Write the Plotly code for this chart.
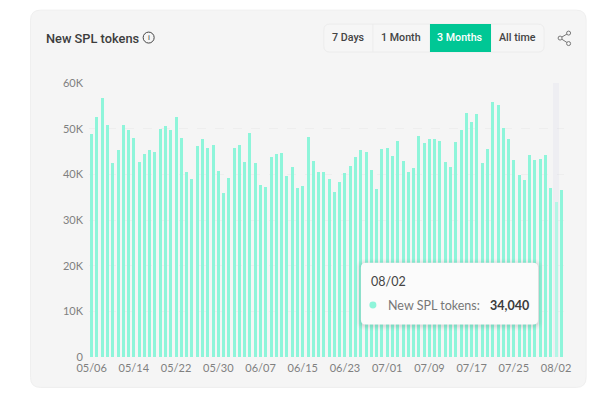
import plotly.graph_objects as go
from datetime import date, timedelta

start = date(2024, 5, 6)
categories = [(start + timedelta(days=i)).strftime("%m/%d") for i in range(90)]
values = [
    48.8, 52.6, 56.8, 50.7, 42.5, 45.4, 50.7, 49.7, 48.0, 42.7,
    44.5, 45.4, 44.9, 49.9, 50.6, 49.6, 52.6, 48.0, 40.5, 39.0,
    46.1, 47.7, 45.8, 46.4, 40.7, 36.0, 39.3, 45.7, 46.4, 42.7,
    49.0, 42.5, 37.7, 37.3, 43.9, 44.5, 44.6, 39.7, 41.5, 37.0,
    37.5, 48.1, 42.9, 40.5, 40.5, 39.0, 36.1, 38.3, 40.3, 41.9,
    43.8, 45.3, 45.0, 41.0, 36.8, 45.5, 45.7, 44.0, 47.3, 43.0,
    40.5, 41.3, 48.3, 46.9, 47.7, 47.7, 47.4, 42.8, 41.6, 47.1,
    49.6, 53.5, 51.4, 53.2, 42.5, 45.5, 55.8, 55.1, 50.2, 47.7,
    43.1, 39.8, 38.8, 44.3, 43.1, 43.4, 44.3, 36.9, 34.04, 36.5,
]
values = [v * 1000 for v in values]
tick_labels = categories[::8]
y_ticks = [0, 10000, 20000, 30000, 40000, 50000, 60000]
y_labels = ["0", "10K", "20K", "30K", "40K", "50K", "60K"]
active_day = "08/02"
active_value = "34,040"
shadow_values = [60000 if c == active_day else 0 for c in categories]
buttons = ["7 Days", "1 Month", "3 Months", "All time"]

W, H = 605, 393
L, R, T, B = 89.4, 563.9, 83.0, 357.5
px = lambda v: (v - L) / (R - L)
py = lambda v: (B - v) / (B - T)

BAR = "#8ef5da"
bar_colors = ["#b4f6e6" if c == active_day else BAR for c in categories]

fig = go.Figure()
fig.add_bar(x=categories, y=shadow_values, width=1, marker=dict(color="rgba(150,150,210,0.07)", line_width=0),
            hoverinfo="skip")
fig.add_bar(x=categories, y=values, width=0.56, marker=dict(color=bar_colors, line_width=0),
            hovertemplate="%{x}<br>New SPL tokens: %{y:,}<extra></extra>")

shapes = []
def rr(x0, y0, x1, y1, r, fill, line="rgba(0,0,0,0)", lw=0, layer="above"):
    p = (f"M{px(x0+r)},{py(y0)} L{px(x1-r)},{py(y0)} Q{px(x1)},{py(y0)} {px(x1)},{py(y0+r)} "
         f"L{px(x1)},{py(y1-r)} Q{px(x1)},{py(y1)} {px(x1-r)},{py(y1)} "
         f"L{px(x0+r)},{py(y1)} Q{px(x0)},{py(y1)} {px(x0)},{py(y1-r)} "
         f"L{px(x0)},{py(y0+r)} Q{px(x0)},{py(y0)} {px(x0+r)},{py(y0)} Z")
    shapes.append(dict(type="path", path=p, xref="paper", yref="paper", fillcolor=fill,
                       line=dict(color=line, width=lw), layer=layer))

# card
rr(31, 10, 586, 388, 10, "#f5f5f5", "#efefef", 1, "below")
# button group
rr(324, 24, 544, 52, 6, "#f6f6f6", "#ececec", 1)
shapes.append(dict(type="line", xref="paper", yref="paper", x0=px(373), x1=px(373), y0=py(24), y1=py(52),
                   line=dict(color="#ececec", width=1)))
shapes.append(dict(type="rect", xref="paper", yref="paper", x0=px(430), x1=px(491), y0=py(24), y1=py(52),
                   fillcolor="#00c795", line_width=0))
# tooltip shadow layers + body
for d, a in [(5, 0.015), (4, 0.02), (3, 0.025), (2, 0.03), (1, 0.04)]:
    rr(361 - d, 263 - d + 1, 538 + d, 325 + d + 1, 5 + d, f"rgba(40,60,55,{a})")
rr(361, 263, 538, 325, 5, "#fbfbfb")
shapes.append(dict(type="circle", xref="paper", yref="paper", x0=px(369.5), x1=px(376.5), y0=py(302), y1=py(309),
                   fillcolor="#8ef5da", line_width=0))
# info icon
shapes.append(dict(type="circle", xref="paper", yref="paper", x0=px(143.5), x1=px(154.5), y0=py(32), y1=py(43),
                   fillcolor="rgba(0,0,0,0)", line=dict(color="#444", width=1)))
# share icon
sx = [(560, 38), (568.5, 33), (568.5, 43.5)]
shapes.append(dict(type="line", xref="paper", yref="paper", x0=px(sx[0][0]), y0=py(sx[0][1]), x1=px(sx[1][0]), y1=py(sx[1][1]),
                   line=dict(color="#777", width=1)))
shapes.append(dict(type="line", xref="paper", yref="paper", x0=px(sx[0][0]), y0=py(sx[0][1]), x1=px(sx[2][0]), y1=py(sx[2][1]),
                   line=dict(color="#777", width=1)))
for cx, cy in sx:
    shapes.append(dict(type="circle", xref="paper", yref="paper", x0=px(cx - 2), x1=px(cx + 2), y0=py(cy - 2), y1=py(cy + 2),
                       fillcolor="#f5f5f5", line=dict(color="#777", width=1)))

def txt(s, x, y, size, color, family="Roboto", anchor="center", weight=None):
    f = dict(size=size, color=color, family=family)
    if weight:
        f["weight"] = weight
    return dict(text=s, x=px(x), y=py(y), xref="paper", yref="paper", showarrow=False, xanchor=anchor,
                yanchor="middle", font=f, borderpad=0)

ann = [
    txt("New SPL tokens", 45, 38, 12.8, "#3d3d3d", anchor="left", weight=500),
    txt("i", 149, 37.5, 8, "#444"),
    txt(buttons[0], 349, 37.5, 10.7, "#444", weight=500),
    txt(buttons[1], 401, 37.5, 10.7, "#444", weight=500),
    txt(buttons[2], 460.5, 37.5, 10.7, "#ffffff", weight=500),
    txt(buttons[3], 517, 37.5, 10.7, "#444", weight=500),
    txt(active_day, 370, 282, 12.5, "#444", "Lato", "left"),
    txt("New SPL tokens:", 387, 306, 12.5, "#777", "Lato", "left"),
    txt("<b>" + active_value + "</b>", 530, 306, 12.5, "#3a3a3a", "Lato", "right"),
]

fig.update_layout(
    width=W, height=H, autosize=False,
    margin=dict(l=L, r=W - R, t=T, b=H - B),
    paper_bgcolor="#ffffff", plot_bgcolor="rgba(0,0,0,0)",
    barmode="overlay", showlegend=False, bargap=0,
    shapes=shapes, annotations=ann,
    xaxis=dict(type="category", categoryarray=categories, categoryorder="array", range=[-0.5, 89.5],
               tickmode="array", tickvals=tick_labels, ticktext=tick_labels, showgrid=False, zeroline=False,
               showline=False, ticks="", tickfont=dict(family="Lato", size=11, color="#808080"), ticklabelstandoff=3),
    yaxis=dict(range=[0, 60000], tickmode="array", tickvals=y_ticks, ticktext=y_labels, zeroline=False,
               showgrid=True, gridcolor="#eeeeee", griddash="dash", gridwidth=1, ticks="",
               tickfont=dict(family="Lato", size=11, color="#808080"), ticklabelstandoff=5),
)
fig.write_html("out.html", config={"displayModeBar": False},
               post_script="document.body.style.margin='0';document.body.style.overflow='hidden';")
